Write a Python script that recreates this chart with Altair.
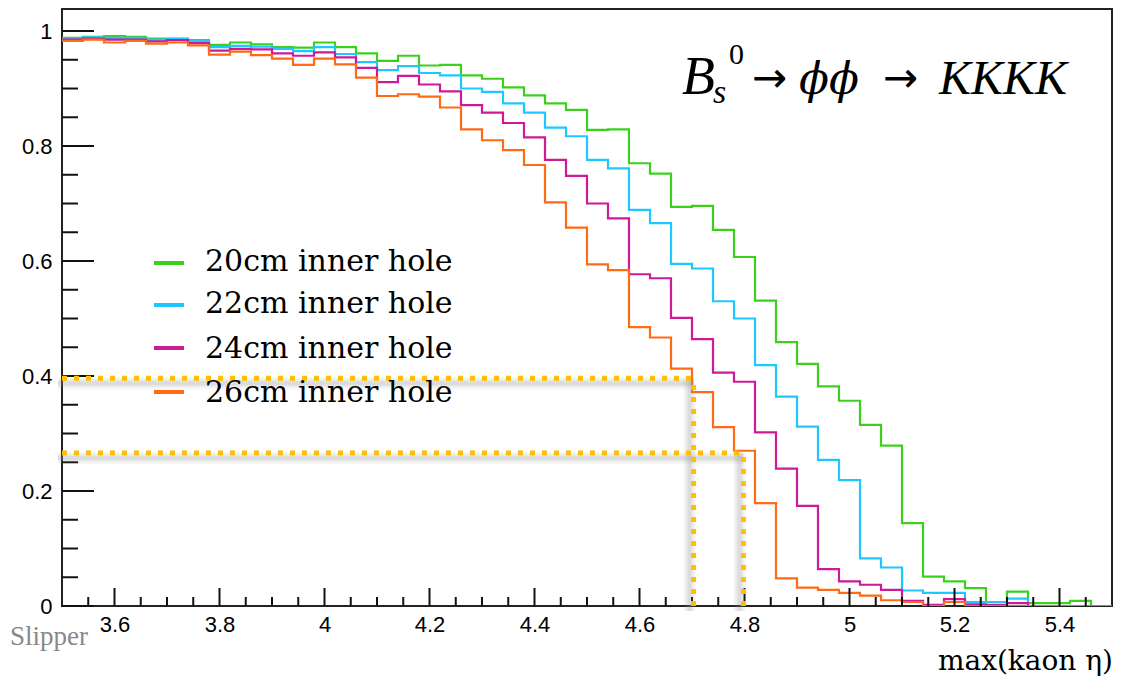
import altair as alt
import pandas as pd

# ---- data (50 bins of width 0.04 from 3.5 to 5.5) ----
bin_lo = 3.5
bin_w = 0.04
n_bins = 50

green_20 = [0.988, 0.990, 0.991, 0.990, 0.987, 0.987, 0.984, 0.976, 0.980, 0.977,
            0.972, 0.971, 0.980, 0.972, 0.961, 0.948, 0.957, 0.940, 0.941, 0.923,
            0.917, 0.902, 0.888, 0.874, 0.863, 0.828, 0.829, 0.770, 0.752, 0.694,
            0.696, 0.654, 0.607, 0.531, 0.459, 0.421, 0.382, 0.357, 0.315, 0.279,
            0.144, 0.051, 0.043, 0.031, 0.007, 0.025, 0.005, 0.005, 0.009, 0.0]
cyan_22 = [0.987, 0.989, 0.988, 0.988, 0.985, 0.986, 0.983, 0.972, 0.974, 0.973,
           0.969, 0.965, 0.972, 0.960, 0.946, 0.932, 0.939, 0.927, 0.923, 0.900,
           0.894, 0.874, 0.858, 0.832, 0.817, 0.776, 0.761, 0.689, 0.666, 0.595,
           0.587, 0.530, 0.500, 0.419, 0.364, 0.312, 0.254, 0.219, 0.083, 0.067,
           0.027, 0.023, 0.023, 0.007, 0.007, 0.013, 0.0, 0.0, 0.0, 0.0]
magenta_24 = [0.985, 0.987, 0.985, 0.985, 0.982, 0.984, 0.979, 0.966, 0.969, 0.968,
              0.961, 0.957, 0.963, 0.954, 0.936, 0.911, 0.922, 0.907, 0.895, 0.871,
              0.858, 0.840, 0.815, 0.776, 0.748, 0.700, 0.674, 0.577, 0.570, 0.501,
              0.464, 0.406, 0.390, 0.302, 0.239, 0.174, 0.064, 0.043, 0.037, 0.028,
              0.009, 0.002, 0.012, 0.003, 0.002, 0.005, 0.0, 0.0, 0.0, 0.0]
orange_26 = [0.983, 0.985, 0.980, 0.983, 0.978, 0.980, 0.975, 0.959, 0.964, 0.958,
             0.952, 0.941, 0.952, 0.942, 0.919, 0.887, 0.890, 0.886, 0.867, 0.829,
             0.810, 0.793, 0.767, 0.702, 0.658, 0.594, 0.584, 0.485, 0.467, 0.413,
             0.372, 0.311, 0.270, 0.179, 0.048, 0.032, 0.028, 0.023, 0.018, 0.010,
             0.007, 0.0, 0.007, 0.0, 0.0, 0.0, 0.0, 0.0, 0.0, 0.0]

series_names = ["20cm inner hole", "22cm inner hole", "24cm inner hole", "26cm inner hole"]
series_values = [green_20, cyan_22, magenta_24, orange_26]
series_colors = ["#3ccf1e", "#1ec8ff", "#cc1a99", "#ff6a14"]

x_major = [3.6, 3.8, 4.0, 4.2, 4.4, 4.6, 4.8, 5.0, 5.2, 5.4]
x_minor = [3.55, 3.65, 3.7, 3.75, 3.85, 3.9, 3.95, 4.05, 4.1, 4.15, 4.25, 4.3, 4.35,
           4.45, 4.5, 4.55, 4.65, 4.7, 4.75, 4.85, 4.9, 4.95, 5.05, 5.1, 5.15,
           5.25, 5.3, 5.35, 5.45]
y_major = [0.0, 0.2, 0.4, 0.6, 0.8, 1.0]
y_minor = [0.05, 0.1, 0.15, 0.25, 0.3, 0.35, 0.45, 0.5, 0.55, 0.65, 0.7, 0.75,
           0.85, 0.9, 0.95]

guide_x = [4.703, 4.798]
guide_y = [0.396, 0.266]

# ---- build tables ----
W, H = 1050, 597
xscale = alt.Scale(domain=[3.5, 5.5], nice=False, zero=False)
yscale = alt.Scale(domain=[0, 1.0383], nice=False, zero=True)
xaxis = alt.Axis(values=x_major, format="~g", ticks=False, domain=False, grid=False,
                 labelFont="Liberation Sans", labelFontSize=22, labelColor="#000",
                 labelPadding=8, labelOverlap=False, labelFlush=False, title=None)
yaxis = alt.Axis(values=y_major, format="~g", ticks=False, domain=False, grid=False,
                 labelFont="Liberation Sans", labelFontSize=22, labelColor="#000",
                 labelPadding=10, labelOverlap=False, labelFlush=False, title=None)

def X(f):
    return alt.X(f, type="quantitative", scale=xscale, axis=xaxis)

def Y(f):
    return alt.Y(f, type="quantitative", scale=yscale, axis=yaxis)

layers = []

# histogram step lines
for name, vals, col in zip(series_names, series_values, series_colors):
    rows = [{"x": round(bin_lo + bin_w * i, 4), "y": v} for i, v in enumerate(vals)]
    rows.append({"x": round(bin_lo + bin_w * n_bins, 4), "y": vals[-1]})
    df = pd.DataFrame(rows)
    layers.append(
        alt.Chart(df).mark_line(interpolate="step-after", color=col, strokeWidth=2.2,
                                clip=True)
        .encode(x=X("x"), y=Y("y"))
    )

# ROOT-style inward ticks
df_ym = pd.DataFrame({"y": y_major})
df_yn = pd.DataFrame({"y": y_minor})
df_xm = pd.DataFrame({"x": x_major})
df_xn = pd.DataFrame({"x": x_minor})
tick_style = dict(color="#111", strokeWidth=2)
layers.append(alt.Chart(df_ym).mark_rule(**tick_style).encode(
    y=Y("y"), x=alt.value(0), x2=alt.value(32)))
layers.append(alt.Chart(df_yn).mark_rule(**tick_style).encode(
    y=Y("y"), x=alt.value(0), x2=alt.value(16)))
layers.append(alt.Chart(df_xm).mark_rule(**tick_style).encode(
    x=X("x"), y=alt.value(H), y2=alt.value(H - 18)))
layers.append(alt.Chart(df_xn).mark_rule(**tick_style).encode(
    x=X("x"), y=alt.value(H), y2=alt.value(H - 9)))

# yellow dotted guide lines with soft shadow
df_g = pd.DataFrame({"x": guide_x, "y": guide_y, "x0": [3.5, 3.5], "y0": [0.0, 0.0]})
for w, op in [(12, 0.08), (8, 0.12), (4, 0.15)]:
    sh = dict(color="#909090", strokeWidth=w, opacity=op, xOffset=-4, yOffset=5)
    layers.append(alt.Chart(df_g).mark_rule(**sh).encode(
        x=X("x0"), x2="x:Q", y=Y("y")))
    layers.append(alt.Chart(df_g).mark_rule(**sh).encode(
        x=X("x"), y=Y("y0"), y2="y:Q"))
dot = dict(color="#FFC000", strokeWidth=5, strokeDash=[5, 7], strokeCap="butt")
layers.append(alt.Chart(df_g).mark_rule(**dot).encode(x=X("x0"), x2="x:Q", y=Y("y")))
layers.append(alt.Chart(df_g).mark_rule(**dot).encode(x=X("x"), y=Y("y0"), y2="y:Q"))

# legend (manual, inside the frame)
leg_line_y = [254, 296, 339, 383]
leg_text_y = [262, 304, 349, 393]
for name, col, ly, ty in zip(series_names, series_colors, leg_line_y, leg_text_y):
    layers.append(alt.Chart(pd.DataFrame({"k": [0]})).mark_rule(color=col, strokeWidth=4)
                  .encode(x=alt.value(92), x2=alt.value(122), y=alt.value(ly)))
    layers.append(alt.Chart(pd.DataFrame({"k": [0]})).mark_text(
        text=name, align="left", baseline="alphabetic", font="DejaVu Serif",
        fontSize=30, color="#000").encode(x=alt.value(143), y=alt.value(ty)))

# process label  B_s^0 -> phi phi -> KKKK
def txt(s, x, y, size, italic=True, font="Liberation Serif, DejaVu Serif"):
    mk = dict(text=s, align="left", baseline="alphabetic", font=font, fontSize=size,
              color="#000")
    if italic:
        mk["fontStyle"] = "italic"
    return alt.Chart(pd.DataFrame({"k": [0]})).mark_text(**mk).encode(
        x=alt.value(x), y=alt.value(y))

layers.append(txt("B", 620, 85, 54))
layers.append(txt("0", 667, 55, 30, italic=False))
layers.append(txt("s", 651, 94, 34))
layers.append(txt("→", 690, 83, 42, italic=False, font="DejaVu Sans"))
layers.append(txt("ϕϕ", 737, 85, 44, font="DejaVu Serif"))
layers.append(txt("→", 821, 83, 42, italic=False, font="DejaVu Sans"))
layers.append(txt("KKKK", 877, 85, 48))

# axis title and corner text
layers.append(alt.Chart(pd.DataFrame({"k": [0]})).mark_text(
    text="max(kaon η)", align="right", baseline="alphabetic", font="DejaVu Serif",
    fontSize=28, color="#000").encode(x=alt.value(1051), y=alt.value(661)))
layers.append(alt.Chart(pd.DataFrame({"k": [0]})).mark_text(
    text="Slipper", align="right", baseline="alphabetic", font="Liberation Serif",
    fontSize=27, color="#888").encode(x=alt.value(26), y=alt.value(636)))

chart = alt.layer(*layers).properties(
    width=W, height=H,
    autosize=alt.AutoSizeParams(type="none"),
    padding={"left": 54, "top": 1, "right": 17, "bottom": 72},
).configure_view(stroke="#222", strokeWidth=2)

chart.save("out.html", embed_options={"renderer": "svg", "actions": False})
